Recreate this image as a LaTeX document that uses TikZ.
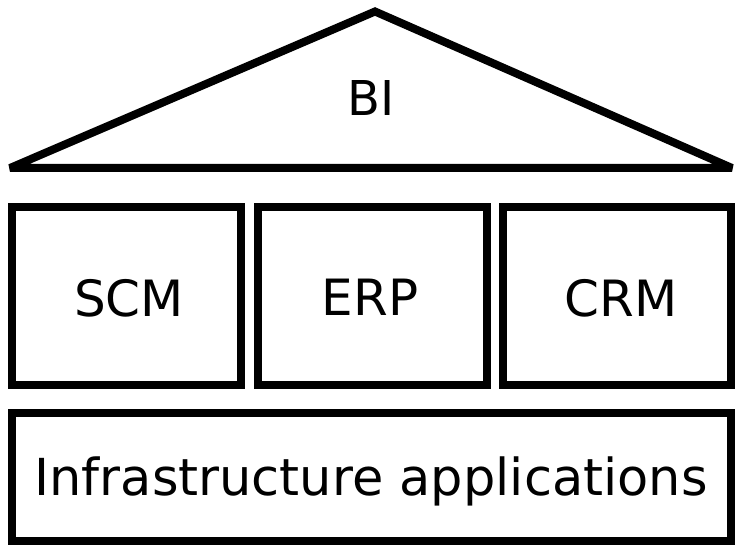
\documentclass[tikz,border=0pt]{standalone}
\usepackage{fontspec}
\setmainfont{DejaVu Sans}
\begin{document}
\begin{tikzpicture}[x=1pt,y=-1pt,
  frame/.style={draw=black,line width=8pt,line join=miter,miter limit=2},
  block/.style={frame,rectangle,inner sep=0pt,outer sep=0pt},
  caption/.style={anchor=base,inner sep=0pt,font=\fontsize{50}{60}\selectfont},
  smallcaption/.style={caption,font=\fontsize{48}{58}\selectfont},
  widecaption/.style={caption,font=\fontsize{51}{61}\selectfont}]
  \useasboundingbox (0,0) rectangle (735,545);

  % roof
  \coordinate (roofL) at (10,168);
  \coordinate (roofR) at (732,168);
  \coordinate (roofTop) at (375,11.5);
  \draw[frame] (roofL) -- (roofTop) -- (roofR) -- cycle;
  \node[smallcaption] (bi) at (371,116) {BI};

  % pillars
  \node[block,minimum width=229.5pt,minimum height=177.5pt] (scm) at (126.25,296.25) {};
  \node[block,minimum width=229pt,minimum height=177.5pt] (erp) at (372.5,296.25) {};
  \node[block,minimum width=228pt,minimum height=177.5pt] (crm) at (617,296.25) {};
  \node[caption] (scmt) at (129,316) {SCM};
  \node[caption] (erpt) at (370,315) {ERP};
  \node[caption] (crmt) at (621,316) {CRM};

  % foundation
  \node[block,minimum width=719.5pt,minimum height=128.5pt] (infra) at (371.25,476.75) {};
  \node[widecaption] (infrat) at (371,495) {Infrastructure applications};
\end{tikzpicture}
\end{document}
